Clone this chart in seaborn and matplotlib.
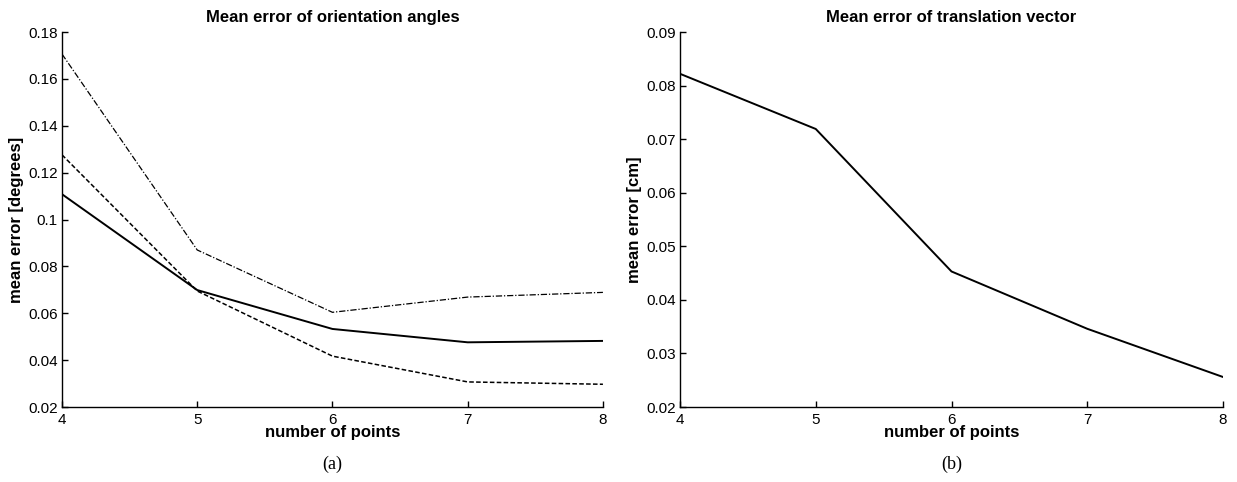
import pandas as pd
import matplotlib.pyplot as plt
import seaborn as sns

# values
n_points = [4, 5, 6, 7, 8]
orient_solid = [0.1108, 0.0699, 0.0533, 0.0476, 0.0482]
orient_dashed = [0.1276, 0.0695, 0.0417, 0.0307, 0.0297]
orient_dashdot = [0.1706, 0.0870, 0.0604, 0.0669, 0.0689]
transl_err = [0.0822, 0.0719, 0.0453, 0.0346, 0.0256]

sns.set_style("ticks")
plt.rcParams["font.family"] = ["Liberation Sans", "DejaVu Sans"]
plt.rcParams.update({
    "xtick.direction": "in", "ytick.direction": "in",
    "text.color": "black", "axes.labelcolor": "black",
    "xtick.color": "black", "ytick.color": "black",
    "axes.edgecolor": "black",
})

df_orient = pd.DataFrame({
    "n": n_points * 3,
    "err": orient_solid + orient_dashed + orient_dashdot,
    "series": ["solid"] * 5 + ["dashed"] * 5 + ["dashdot"] * 5,
})
df_transl = pd.DataFrame({"n": n_points, "err": transl_err})

fig = plt.figure(figsize=(12.37, 4.82), dpi=100)
ax1 = fig.add_axes([0.0501, 0.1556, 0.4373, 0.778])
ax2 = fig.add_axes([0.5497, 0.1556, 0.4390, 0.778])

sns.lineplot(
    data=df_orient, x="n", y="err", style="series", size="series",
    dashes={"solid": "", "dashed": (3, 1.5), "dashdot": (5, 1.5, 1, 1.5)},
    sizes={"solid": 1.4, "dashed": 1.1, "dashdot": 0.9},
    color="black", legend=False, ax=ax1,
)
sns.lineplot(data=df_transl, x="n", y="err", color="black", linewidth=1.4, ax=ax2)

for ax, title, ylab, ylim, yticks, letter in [
    (ax1, "Mean error of orientation angles", "mean error [degrees]", (0.02, 0.18),
     [0.02, 0.04, 0.06, 0.08, 0.1, 0.12, 0.14, 0.16, 0.18], "(a)"),
    (ax2, "Mean error of translation vector", "mean error [cm]", (0.02, 0.09),
     [0.02, 0.03, 0.04, 0.05, 0.06, 0.07, 0.08, 0.09], "(b)"),
]:
    ax.set_xlim(4, 8)
    ax.set_ylim(*ylim)
    ax.set_xticks(n_points)
    ax.set_yticks(yticks)
    ax.set_yticklabels([f"{v:g}" for v in yticks])
    ax.tick_params(labelsize=11, length=4, width=1)
    ax.tick_params(axis="x", pad=4)
    ax.tick_params(axis="y", pad=3)
    ax.set_title(title, fontsize=12, fontweight="bold", pad=7)
    ax.set_xlabel("number of points", fontsize=12, fontweight="bold", labelpad=-1)
    ax.set_ylabel(ylab, fontsize=12, fontweight="bold", labelpad=3)
    sns.despine(ax=ax)
    for s in ["left", "bottom"]:
        ax.spines[s].set_linewidth(1.0)
    ax.text(0.5, -0.152, letter, transform=ax.transAxes, ha="center", va="center",
            fontsize=13, family="Liberation Serif")

fig.savefig("out.png", dpi=100)
